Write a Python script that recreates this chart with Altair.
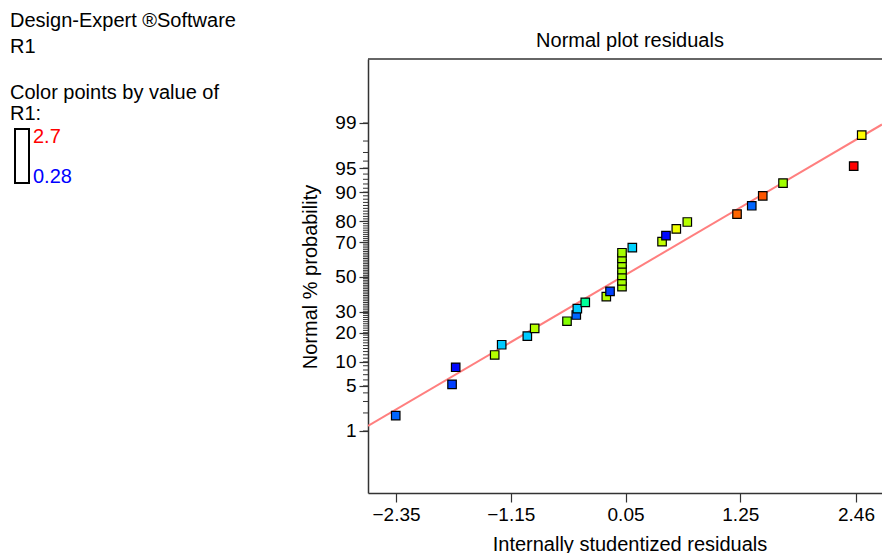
import altair as alt
import pandas as pd
from statistics import NormalDist

# ---- data ----
resid = [-2.353, -1.764, -1.726, -1.318, -1.245, -0.977, -0.900, -0.562, -0.465, -0.454,
         -0.371, -0.151, -0.112, 0.013, 0.013, 0.013, 0.013, 0.013, 0.013, 0.013,
         0.121, 0.432, 0.473, 0.581, 0.696, 1.216, 1.370, 1.485, 1.697, 2.436, 2.520]
prob_pct = [1.81, 5.25, 8.63, 11.94, 15.3, 18.6, 21.9, 25.2, 28.3, 31.6,
            35.1, 38.3, 41.4, 44.2, 47.6, 51.0, 54.4, 57.8, 61.1, 64.3,
            67.1, 70.3, 73.4, 76.6, 79.7, 82.9, 85.9, 89.0, 92.2, 95.3, 98.4]
r1_value = [0.52, 0.43, 0.30, 1.92, 0.76, 0.76, 1.92, 1.80, 0.52, 0.76,
            1.13, 1.92, 0.43, 1.88, 1.88, 1.88, 1.88, 1.88, 1.88, 1.88,
            0.78, 1.95, 0.30, 2.06, 1.92, 2.46, 0.52, 2.50, 1.87, 2.70, 2.10]

x_ticks = [-2.35, -1.15, 0.05, 1.25, 2.46]
y_ticks_pct = [1, 5, 10, 20, 30, 50, 70, 80, 90, 95, 99]
minor_pct = list(range(1, 100))
line_slope = 0.847
line_intercept = -0.01
x_domain = [-2.643, 2.732]
z_domain = [-3.263, 3.293]
r1_range = [0.28, 2.7]

nd = NormalDist()


def zval(p):
    return nd.inv_cdf(p / 100.0)


FONT = "Liberation Sans"
W, H = 514, 434
TXT = 20
TICK = 19

pts = pd.DataFrame({"resid": resid, "z": [zval(p) for p in prob_pct], "r1": r1_value})
line_df = pd.DataFrame({"resid": x_domain,
                        "z": [line_slope * v + line_intercept for v in x_domain]})
minor_df = pd.DataFrame({"z": [zval(p) for p in minor_pct]})

xscale = alt.Scale(domain=x_domain, nice=False, zero=False)
yscale = alt.Scale(domain=z_domain, nice=False, zero=False)

lo, hi = r1_range
step = (hi - lo) / 4
cscale = alt.Scale(domain=[lo, lo + step, lo + 2 * step, lo + 3 * step, hi],
                   range=["#0000ff", "#00ffff", "#00ff00", "#ffff00", "#ff0000"],
                   interpolate="rgb")

xaxis = alt.Axis(values=x_ticks, format=".2f", title=None, grid=False, tickSize=9,
                 labelFontSize=TICK, labelFont=FONT, labelColor="black", labelPadding=3,
                 domainColor="#333333", domainWidth=1.5, tickColor="#333333", tickWidth=1.2,
                 labelFlush=False, labelOverlap=False)
yaxis = alt.Axis(values=[zval(p) for p in y_ticks_pct],
                 labelExpr="format(cumulativeNormal(datum.value)*100, '.0f')",
                 title=None, grid=False, tickSize=9, labelFontSize=TICK, labelFont=FONT,
                 labelColor="black", labelPadding=3, domainColor="#333333", domainWidth=1.5,
                 tickColor="#333333", tickWidth=1.2, labelFlush=False, labelOverlap=False)

base_pts = alt.Chart(pts).mark_square(size=72, opacity=1, stroke="black",
                                      strokeWidth=1.2).encode(
    x=alt.X("resid:Q", scale=xscale, axis=xaxis),
    y=alt.Y("z:Q", scale=yscale, axis=yaxis),
    color=alt.Color("r1:Q", scale=cscale, legend=None),
)

fit_line = alt.Chart(line_df).mark_line(color="#ff7f7f", strokeWidth=2, clip=True).encode(
    x=alt.X("resid:Q", scale=xscale),
    y=alt.Y("z:Q", scale=yscale),
)

minor = alt.Chart(minor_df).mark_rule(color="#333333", strokeWidth=1).encode(
    y=alt.Y("z:Q", scale=yscale),
    x=alt.value(-5), x2=alt.value(0),
)

top_border = alt.Chart(pd.DataFrame({"a": [0]})).mark_rule(
    color="#333333", strokeWidth=1.5).encode(
    x=alt.value(0), x2=alt.value(W), y=alt.value(0))


def txt(s, x, y, size=TXT, color="black", align="left", angle=0, baseline="alphabetic"):
    return alt.Chart(pd.DataFrame({"t": [s]})).mark_text(
        font=FONT, fontSize=size, color=color, align=align, baseline=baseline,
        angle=angle).encode(text="t:N", x=alt.value(x), y=alt.value(y))


legend_box = alt.Chart(pd.DataFrame({"a": [0]})).mark_rect(
    fill=None, stroke="black", strokeWidth=2).encode(
    x=alt.value(-353), x2=alt.value(-339), y=alt.value(70), y2=alt.value(124))

texts = [
    txt("Design-Expert \u00aeSoftware", -358, -32),
    txt("R1", -358, -6),
    txt("Color points by value of", -358, 40),
    txt("R1:", -358, 61),
    txt(f"{hi:g}", -335, 84, color="#ff0000"),
    txt(f"{lo:g}", -335, 124, color="#0000ff"),
    txt("Normal plot residuals", 262, -12, align="center"),
    txt("Internally studentized  residuals", 262, 492, align="center"),
    txt("Normal % probability", -57, H / 2 + 1, align="center", angle=270,
        baseline="middle"),
]

chart = alt.layer(minor, fit_line, base_pts, top_border, legend_box, *texts).properties(
    width=W, height=H,
    autosize=alt.AutoSizeParams(type="none"),
    padding={"left": 360, "top": 51, "right": 0, "bottom": 60},
).configure_view(strokeWidth=0)

chart.save("out.html", embed_options={"renderer": "svg", "actions": False})
